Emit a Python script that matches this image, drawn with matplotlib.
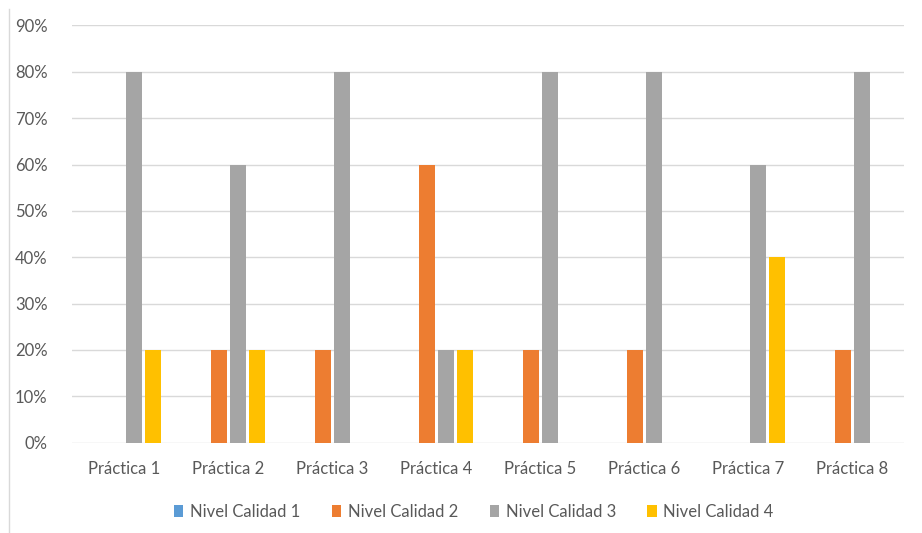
import matplotlib
matplotlib.use("Agg")
import matplotlib.pyplot as plt
import numpy as np
from matplotlib.lines import Line2D
from matplotlib.patches import Patch

plt.rcParams['font.family'] = ['Lato', 'DejaVu Sans']

categories = ["Práctica 1", "Práctica 2", "Práctica 3", "Práctica 4",
              "Práctica 5", "Práctica 6", "Práctica 7", "Práctica 8"]
series_names = ["Nivel Calidad 1", "Nivel Calidad 2", "Nivel Calidad 3", "Nivel Calidad 4"]
nivel_1 = [0, 0, 0, 0, 0, 0, 0, 0]
nivel_2 = [0, 20, 20, 60, 20, 20, 0, 20]
nivel_3 = [80, 60, 80, 20, 80, 80, 60, 80]
nivel_4 = [20, 20, 0, 20, 0, 0, 40, 0]
y_ticks = [0, 10, 20, 30, 40, 50, 60, 70, 80, 90]

colors = ["#5B9BD5", "#ED7D31", "#A5A5A5", "#FFC000"]
text_color = "#595959"
grid_color = "#D9D9D9"

fig = plt.figure(figsize=(9.22, 5.33), dpi=100)
ax = fig.add_axes([0.0786, 0.1694, 0.9024, 0.7828])

x = np.arange(len(categories))
bar_w = 0.15
step = 0.183
for i, (vals, name, col) in enumerate(zip([nivel_1, nivel_2, nivel_3, nivel_4],
                                          series_names, colors)):
    ax.bar(x + (i - 1.5) * step, vals, width=bar_w, color=col, label=name, zorder=3)

ax.set_xlim(-0.5, len(categories) - 0.5)
ax.set_ylim(0, 90)
ax.set_yticks(y_ticks)
ax.set_yticklabels([f"{v}%" for v in y_ticks])
ax.set_xticks(x)
ax.set_xticklabels(categories)
ax.tick_params(axis='both', length=0, colors=text_color, labelsize=12)
ax.tick_params(axis='y', pad=18)
ax.tick_params(axis='x', pad=13)
ax.grid(axis='y', color=grid_color, linewidth=1.0, zorder=0)
for s in ax.spines.values():
    s.set_visible(False)

handles = [Patch(facecolor=c, edgecolor='none') for c in colors]
fig.legend(handles, series_names, loc='center', bbox_to_anchor=(0.514, 0.04),
           ncol=4, frameon=False, fontsize=12, labelcolor=text_color,
           handlelength=0.55, handleheight=0.7, handletextpad=0.4, columnspacing=1.9)

# thin border on the left side of the chart area
fig.add_artist(Line2D([8.5 / 922, 8.5 / 922], [0.0, 1 - 9 / 533],
                      transform=fig.transFigure, color="#D9D9D9", linewidth=1.0))

fig.savefig("out.png", dpi=100)
